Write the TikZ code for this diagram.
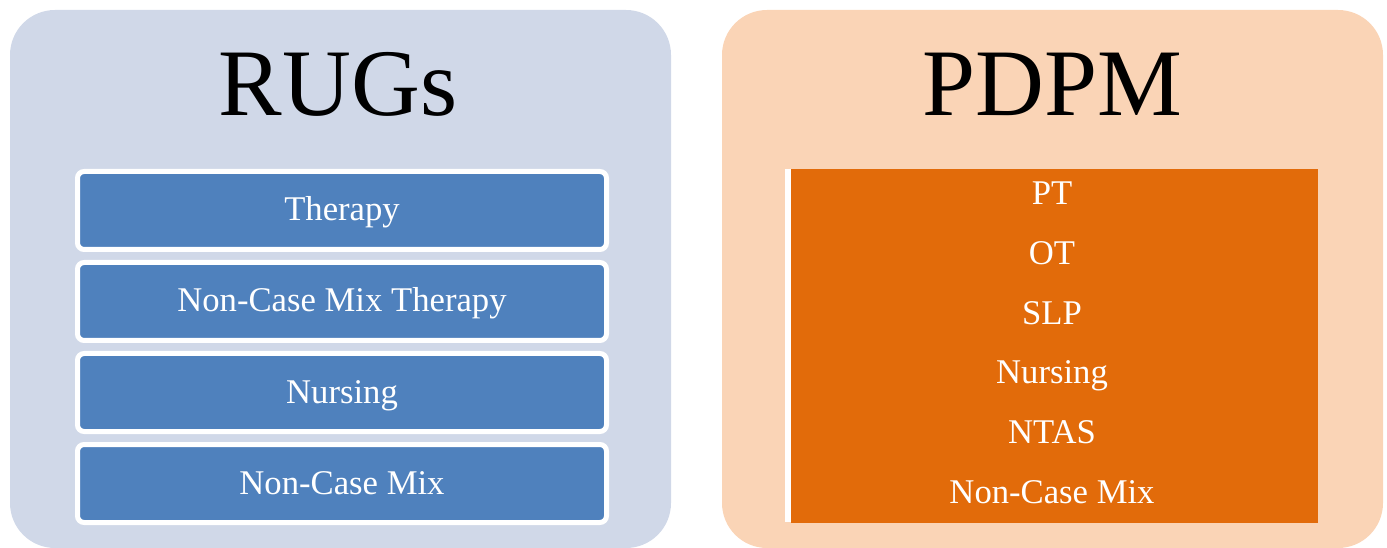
\documentclass[tikz,border=0pt]{standalone}
\usepackage{fontspec}
\setmainfont{Liberation Serif}
\definecolor{rugbg}{RGB}{208,216,232}
\definecolor{rugbox}{RGB}{79,129,189}
\definecolor{pdpmbg}{RGB}{250,212,182}
\definecolor{pdpmbox}{RGB}{226,107,10}
\tikzset{
  panel/.style={rounded corners=33.75pt},
  rugitem/.style={draw=white, line width=3.75pt, fill=rugbox, rounded corners=5pt},
  itemtext/.style={text=white, font=\fontsize{26}{30}\selectfont, anchor=base, inner sep=0pt},
  title/.style={text=black, font=\fontsize{71.5}{80}\selectfont, anchor=base, inner sep=0pt}
}
\begin{document}
\begin{tikzpicture}[x=0.75pt, y=-0.75pt]
\useasboundingbox (0,0) rectangle (1387,548);
% panels
\fill[rugbg, panel] (10,10) rectangle (671,548);
\fill[pdpmbg, panel] (722,10) rectangle (1383,548);
\node[title] (rugs) at (338,116) {RUGs};
\node[title] (pdpm) at (1052,116) {PDPM};
% RUGs items
\foreach \name/\txt [count=\i from 0] in {r1/Therapy, r2/Non-Case Mix Therapy, r3/Nursing, r4/Non-Case Mix}{
  \pgfmathsetmacro{\top}{169+91*\i}
  \draw[rugitem] (77.5,\top+2.5) rectangle (606.5,\top+80.5);
  \node[itemtext] (\name) at (342,\top+52) {\txt};
}
% PDPM box
\fill[white] (785,169) rectangle (791,522);
\fill[pdpmbox] (791,169) rectangle (1318,523);
\foreach \name/\txt [count=\i from 0] in {p1/PT, p2/OT, p3/SLP, p4/Nursing, p5/NTAS, p6/Non-Case Mix}{
  \node[itemtext] (\name) at (1052,205+59.6*\i) {\txt};
}
\end{tikzpicture}
\end{document}
